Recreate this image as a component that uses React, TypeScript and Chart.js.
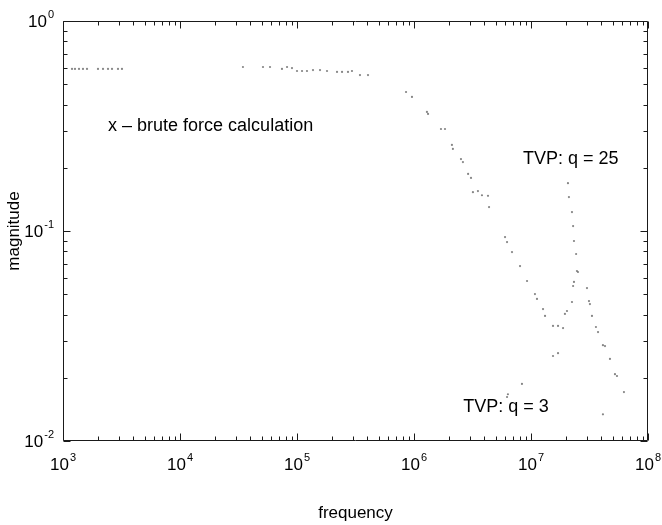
import React, { useEffect, useRef } from "react";
import { Chart, registerables } from "chart.js";

Chart.register(...registerables);

// brute force calculation (x marks)
const bruteFreq = [
  1194, 1266, 1370, 1482, 1604, 1991, 2198, 2425, 2624, 2951, 3192,
  34520, 51200, 58800, 74400, 82200, 90600, 100000, 110400, 121700, 137000, 157300,
  180500, 219800, 242600, 272800, 295000, 345300, 404500,
  855000, 961000, 1.29e6, 1.318e6, 1.7e6, 1.84e6, 2.11e6, 2.15e6, 2.52e6, 2.62e6,
  2.9e6, 3.07e6, 3.19e6, 3.52e6, 3.81e6, 4.29e6, 4.38e6, 6.0e6, 6.24e6, 6.88e6,
  8.06e6, 9.25e6, 1.081e7, 1.125e7, 1.267e7, 1.318e7, 1.542e7, 1.702e7, 1.879e7,
];
const bruteMag = [
  0.591, 0.591, 0.591, 0.591, 0.591, 0.591, 0.591, 0.591, 0.591, 0.591, 0.591,
  0.604, 0.604, 0.604, 0.591, 0.604, 0.597, 0.578, 0.578, 0.578, 0.584, 0.584,
  0.578, 0.572, 0.572, 0.572, 0.578, 0.553, 0.553,
  0.459, 0.435, 0.369, 0.361, 0.306, 0.306, 0.257, 0.246, 0.22, 0.213,
  0.187, 0.179, 0.153, 0.155, 0.148, 0.147, 0.13, 0.0936, 0.0886, 0.0794,
  0.0681, 0.0578, 0.0501, 0.0475, 0.0425, 0.0394, 0.0353, 0.0353, 0.0345,
];

// TVP, q = 25
const q25Freq = [
  1.95e7, 2.03e7, 2.24e7, 2.29e7, 2.33e7, 2.07e7, 2.11e7, 2.24e7, 2.29e7, 2.33e7,
  2.43e7, 2.47e7, 2.52e7, 3.01e7, 3.13e7, 3.19e7, 3.32e7, 3.59e7, 3.74e7, 4.12e7,
  4.29e7, 4.73e7, 5.22e7, 5.43e7, 6.23e7,
];
const q25Mag = [
  0.0403, 0.0416, 0.0459, 0.0547, 0.0572, 0.169, 0.145, 0.123, 0.1056, 0.0896,
  0.0777, 0.0645, 0.0638, 0.0535, 0.0464, 0.0449, 0.0394, 0.0349, 0.033, 0.0286,
  0.0283, 0.0246, 0.0208, 0.0204, 0.0171,
];

// TVP, q = 3
const q3Freq = [6.24e6, 6.35e6, 8.37e6, 1.542e7, 1.702e7, 4.12e7];
const q3Mag = [0.0162, 0.0167, 0.0187, 0.0254, 0.0262, 0.0134];

const xDecades = [3, 4, 5, 6, 7, 8];
const yDecades = [0, -1, -2];

const noteTexts = ["x \u2013 brute force calculation", "TVP: q = 25", "TVP: q = 3"];
const noteFreq = [2427, 8.55e6, 2.63e6];
const noteMag = [0.316, 0.22, 0.0145];

const FONT = '"Liberation Sans", Arial, Helvetica, sans-serif';

const toPoints = (xs: number[], ys: number[]) => xs.map((x, i) => ({ x, y: ys[i] }));

const framePlugin = {
  id: "matlabFrame",
  afterDatasetsDraw(chart: any) {
    const { ctx, chartArea: a, scales } = chart;
    const xs = scales.x;
    const ys = scales.y;
    ctx.save();
    ctx.strokeStyle = "#1a1a1a";
    ctx.lineWidth = 1;
    const L = Math.round(a.left) + 0.5;
    const R = Math.round(a.right) - 0.5;
    const T = Math.round(a.top) + 0.5;
    const B = Math.round(a.bottom) - 0.5;
    ctx.beginPath();
    ctx.rect(L, T, R - L, B - T);
    ctx.stroke();

    ctx.beginPath();
    for (let e = 3; e <= 8; e++) {
      for (let k = 1; k <= 9; k++) {
        if (e === 8 && k > 1) break;
        const px = Math.round(xs.getPixelForValue(k * Math.pow(10, e))) + 0.5;
        const len = k === 1 ? 7 : 4;
        ctx.moveTo(px, B);
        ctx.lineTo(px, B - len);
        ctx.moveTo(px, T);
        ctx.lineTo(px, T + len);
      }
    }
    for (let e = -2; e <= 0; e++) {
      for (let k = 1; k <= 9; k++) {
        if (e === 0 && k > 1) break;
        const py = Math.round(ys.getPixelForValue(k * Math.pow(10, e))) + 0.5;
        const len = k === 1 ? 7 : 4;
        ctx.moveTo(L, py);
        ctx.lineTo(L + len, py);
        ctx.moveTo(R, py);
        ctx.lineTo(R - len, py);
      }
    }
    ctx.stroke();

    ctx.fillStyle = "#000";
    ctx.textBaseline = "alphabetic";
    ctx.textAlign = "left";
    const big = `17px ${FONT}`;
    const small = `11px ${FONT}`;
    xDecades.forEach((d) => {
      const px = xs.getPixelForValue(Math.pow(10, d));
      ctx.font = big;
      const w1 = ctx.measureText("10").width;
      ctx.font = small;
      const sup = String(d);
      const w2 = ctx.measureText(sup).width;
      const start = px - (w1 + w2 + 1) / 2;
      ctx.font = big;
      ctx.fillText("10", start, a.bottom + 29);
      ctx.font = small;
      ctx.fillText(sup, start + w1 + 1, a.bottom + 20);
    });
    yDecades.forEach((d) => {
      const py = ys.getPixelForValue(Math.pow(10, d));
      const sup = d === 0 ? "0" : "-" + String(-d);
      ctx.font = small;
      const w2 = ctx.measureText(sup).width;
      ctx.font = big;
      const w1 = ctx.measureText("10").width;
      const end = a.left - 9;
      ctx.fillText("10", end - w2 - 1 - w1, py + 6);
      ctx.font = small;
      ctx.fillText(sup, end - w2, py - 3);
    });

    ctx.font = `18px ${FONT}`;
    noteTexts.forEach((t, i) => {
      const px = xs.getPixelForValue(noteFreq[i]);
      const py = ys.getPixelForValue(noteMag[i]);
      ctx.textBaseline = "middle";
      ctx.fillText(t, px, py);
    });
    ctx.restore();
  },
};

export default function App() {
  const ref = useRef<HTMLCanvasElement | null>(null);
  useEffect(() => {
    if (!ref.current) return;
    const ds = (label: string, xs: number[], ys: number[]) => ({
      label,
      data: toPoints(xs, ys),
      showLine: false,
      pointRadius: 1.1,
      pointHoverRadius: 1.1,
      pointBorderWidth: 0,
      pointBackgroundColor: "rgba(110,110,110,0.85)",
      borderColor: "rgba(110,110,110,0.85)",
    });
    const chart = new Chart(ref.current, {
      type: "scatter",
      data: {
        datasets: [
          ds("brute force", bruteFreq, bruteMag),
          ds("TVP q = 25", q25Freq, q25Mag),
          ds("TVP q = 3", q3Freq, q3Mag),
        ],
      },
      options: {
        animation: false,
        responsive: false,
        devicePixelRatio: 1,
        layout: { padding: { left: 0, right: 14, top: 21, bottom: 0 } },
        plugins: { legend: { display: false }, tooltip: { enabled: false } },
        scales: {
          x: {
            type: "logarithmic",
            min: 1e3,
            max: 1e8,
            grid: { display: false },
            border: { display: false },
            ticks: { display: false },
            title: {
              display: true,
              text: "frequency",
              color: "#000",
              font: { family: FONT, size: 17 },
              padding: { top: 0, bottom: 1 },
            },
            afterFit: (s: any) => {
              s.height = 84;
            },
          },
          y: {
            type: "logarithmic",
            min: 1e-2,
            max: 1,
            grid: { display: false },
            border: { display: false },
            ticks: { display: false },
            title: {
              display: true,
              text: "magnitude",
              color: "#000",
              font: { family: FONT, size: 17 },
              padding: { top: 4, bottom: 0 },
            },
            afterFit: (s: any) => {
              s.width = 63;
            },
          },
        },
      },
      plugins: [framePlugin],
    });
    return () => chart.destroy();
  }, []);
  return (
    <div style={{ position: "fixed", left: 0, top: 0, width: 662, height: 525, background: "#fff" }}>
      <canvas ref={ref} width={662} height={525} />
    </div>
  );
}
